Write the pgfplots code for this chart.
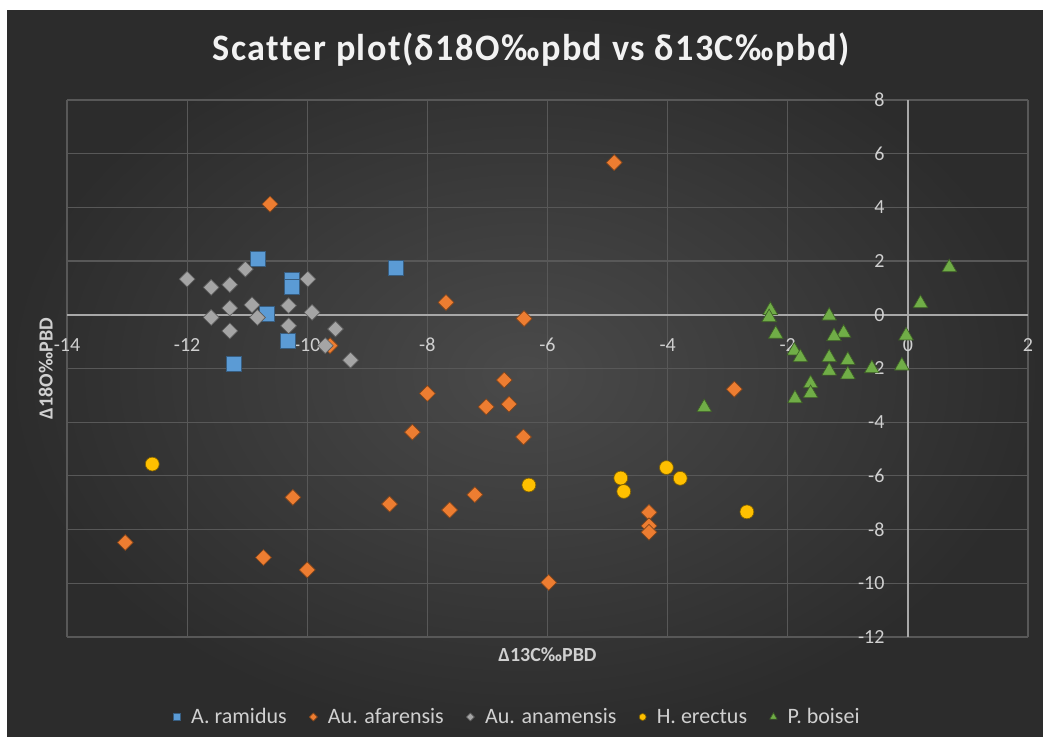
\documentclass[border=0pt]{standalone}
\usepackage{pgfplots}
\pgfplotsset{compat=1.18}
\usepackage{fontspec}
\setmainfont{Carlito}
\newfontfamily\titlefont[LetterSpace=4, Ligatures=NoCommon]{Carlito}
\definecolor{cblue}{HTML}{5B9BD5}
\definecolor{corange}{HTML}{ED7D31}
\definecolor{cgray}{HTML}{A5A5A5}
\definecolor{cyellow}{HTML}{FFC000}
\definecolor{cgreen}{HTML}{70AD47}
\definecolor{bgin}{HTML}{4A4A4A}
\definecolor{bgout}{HTML}{2C2C2C}
\definecolor{gridc}{HTML}{585858}
\definecolor{axisc}{HTML}{A8A8A8}
\definecolor{txtc}{HTML}{D0D0D0}
\pgfplotstableread{
x y
-10.83 2.09
-10.25 1.30
-10.25 1.05
-8.53 1.75
-10.67 0.04
-10.32 -0.97
-11.23 -1.83
}\ramidus
\pgfplotstableread{
x y
-10.62 4.12
-9.62 -1.15
-4.89 5.67
-7.69 0.46
-6.39 -0.14
-6.72 -2.43
-8.00 -2.93
-7.02 -3.43
-6.64 -3.33
-8.25 -4.37
-6.40 -4.55
-2.89 -2.77
-10.24 -6.80
-13.03 -8.48
-10.73 -9.04
-10.00 -9.50
-8.63 -7.05
-7.63 -7.27
-7.21 -6.70
-5.98 -9.97
-4.31 -7.36
-4.31 -7.86
-4.31 -8.10
}\afarensis
\pgfplotstableread{
x y
-12.00 1.33
-11.60 1.02
-11.29 1.12
-11.03 1.70
-9.99 1.33
-11.29 0.25
-10.92 0.37
-10.31 0.34
-9.92 0.09
-11.60 -0.10
-10.83 -0.10
-11.29 -0.60
-10.31 -0.41
-9.53 -0.53
-9.70 -1.15
-9.28 -1.69
}\anamensis
\pgfplotstableread{
x y
-12.58 -5.56
-6.31 -6.34
-4.78 -6.08
-4.73 -6.58
-4.02 -5.69
-3.79 -6.09
-2.68 -7.34
}\erectus
\pgfplotstableread{
x y
0.69 1.76
0.21 0.42
-2.29 0.17
-2.31 -0.10
-2.20 -0.72
-1.31 -0.04
-1.07 -0.68
-1.23 -0.81
-0.03 -0.78
-1.89 -1.34
-1.79 -1.59
-1.31 -1.59
-1.00 -1.69
-1.31 -2.09
-1.00 -2.23
-0.60 -2.00
-0.10 -1.90
-1.62 -2.56
-1.62 -2.93
-1.88 -3.12
-3.39 -3.45
}\boisei
\begin{document}
\begin{tikzpicture}
\begin{scope}[x=0.75pt,y=0.75pt]
\fill[white] (0,0) rectangle (1043,737);
\shade[inner color=bgin, outer color=bgout] (7,0) rectangle (1043,726);
\node[font=\titlefont\bfseries\fontsize{28}{33}\selectfont, text=white!95!black, xscale=0.97] at (531,687) {Scatter plot(δ18O‰pbd vs δ13C‰pbd)};
\end{scope}
\begin{axis}[
  at={(50.25pt,75pt)}, anchor=south west,
  scale only axis, width=720.75pt, height=402.75pt,
  xmin=-14, xmax=2, ymin=-12, ymax=8,
  axis lines=middle,
  axis line style={axisc, line width=1.1pt, -},
  xtick={-14,-12,...,2}, ytick={-12,-10,...,8},
  grid=major, major grid style={gridc, line width=0.9pt},
  major tick length=0pt,
  hide obscured x ticks=false, hide obscured y ticks=false,
  /pgf/number format/assume math mode=true,
  tick label style={font=\fontsize{15}{18}\selectfont, text=txtc},
  xticklabel style={anchor=north, yshift=-14pt},
  yticklabel style={anchor=east, xshift=-14pt},
  xlabel={Δ13C‰PBD}, ylabel={Δ18O‰PBD},
  xlabel style={at={(axis description cs:0.5,-0.011)}, anchor=north, font=\bfseries\fontsize{15}{18}\selectfont, text=txtc},
  ylabel style={at={(axis description cs:-0.01,0.5)}, rotate=90, anchor=south, font=\bfseries\fontsize{15}{18}\selectfont, text=txtc},
  legend columns=5,
  legend cell align=left,
  legend image code/.code={\draw[#1] plot coordinates {(0pt,0pt)};},
  legend image post style={scale=0.5},
  legend style={at={(axis description cs:0.469,-0.149)}, anchor=center, draw=none, fill=none, text=txtc, font=\fontsize{16.5}{19}\selectfont,
    /tikz/every odd column/.append style={column sep=6pt},
    /tikz/every even column/.append style={column sep=15pt}},
  clip=false,
]
\addplot[only marks, mark=square*, mark size=5.6pt, mark options={fill=cblue, draw=cblue!60!black, line width=0.5pt}] table {\ramidus};
\addlegendentry{A. ramidus}
\addplot[only marks, mark=square*, mark size=4.2pt, mark options={rotate=45, fill=corange, draw=corange!55!black, line width=0.5pt}] table {\afarensis};
\addlegendentry{Au. afarensis}
\addplot[only marks, mark=square*, mark size=4.2pt, mark options={rotate=45, fill=cgray, draw=cgray!55!black, line width=0.5pt}] table {\anamensis};
\addlegendentry{Au. anamensis}
\addplot[only marks, mark=*, mark size=5.2pt, mark options={fill=cyellow, draw=cyellow!50!black, line width=0.5pt}] table {\erectus};
\addlegendentry{H. erectus}
\addplot[only marks, mark=triangle*, mark size=6.3pt, mark options={fill=cgreen, draw=cgreen!55!black, line width=0.5pt}] table {\boisei};
\addlegendentry{P. boisei}
\end{axis}
\pgfresetboundingbox
\path (0,0) rectangle (782.25pt,552.75pt);
\end{tikzpicture}
\end{document}
